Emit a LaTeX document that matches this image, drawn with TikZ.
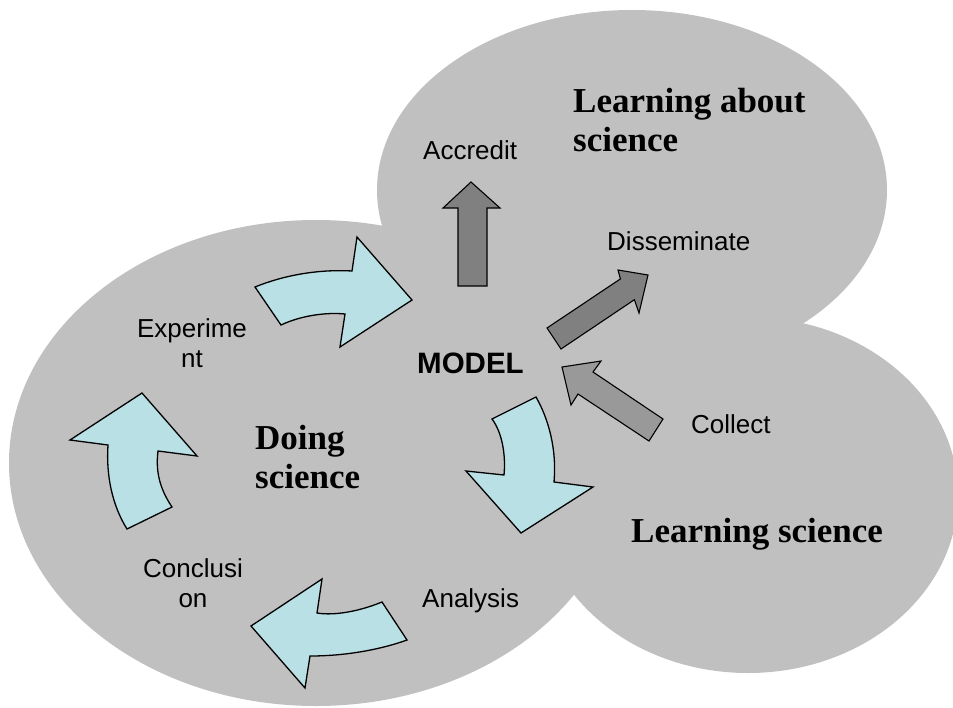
\documentclass[tikz,border=0pt]{standalone}
\usepackage{fontspec}
\setmainfont{Liberation Serif}
\newfontfamily\arialf{Liberation Sans}
\definecolor{blobgray}{HTML}{C0C0C0}
\definecolor{cyanfill}{HTML}{B9E0E4}
\definecolor{darkarr}{HTML}{808080}
\definecolor{midarr}{HTML}{999999}
\tikzset{
  blob/.style={fill=blobgray, draw=none},
  cyc/.style={fill=cyanfill, draw=black, line width=1.3pt, line join=miter},
  blockarr/.style={fill=darkarr, draw=black, line width=1.1pt, line join=miter},
  lbl/.style={font=\arialf\fontsize{26}{29.5}\selectfont, inner sep=0pt, text=black},
  modellbl/.style={font=\arialf\bfseries\fontsize{29.5}{33}\selectfont, inner sep=0pt},
  ttl/.style={font=\bfseries\fontsize{35}{39}\selectfont, inner sep=0pt, align=left}
}
\begin{document}
\begin{tikzpicture}[x=1pt, y=-1pt]
\useasboundingbox (0,0) rectangle (953,707);
% blobs
\fill[blob] (316,463) ellipse [x radius=307, y radius=243];
\fill[blob] (632,190) ellipse [x radius=255, y radius=180];
\fill[blob] (748,495) ellipse [x radius=210, y radius=178];
% curved cycle arrows
\draw[cyc] (255,287) .. controls (282,276) and (316,269) .. (352,271) -- (357,237) -- (412,300) -- (340,347) -- (345,314) .. controls (325,312) and (300,316) .. (281,325) -- cycle;
\draw[cyc] (492,419) -- (536,397) .. controls (548,418) and (557,448) .. (554,482) -- (593,487) -- (521,533) -- (466,471) -- (504,475) .. controls (506,455) and (502,432) .. (492,419) -- cycle;
\draw[cyc] (251,626) -- (322,579) -- (317,613) .. controls (335,616) and (360,611) .. (382,602) -- (407,640) .. controls (385,648) and (350,656) .. (310,656) -- (305,688) -- cycle;
\draw[cyc] (142,393) -- (197,456) -- (158,451) .. controls (155,475) and (162,492) .. (172,507) -- (127,529) .. controls (112,505) and (106,475) .. (108,445) -- (70,440) -- cycle;
% straight arrows
\draw[blockarr] (458,286) -- (458,208) -- (443,208) -- (471,182) -- (500,208) -- (487,208) -- (487,286) -- cycle;
\draw[blockarr] (547,328) -- (620.4,278.9) -- (618,270) -- (648,275) -- (639,313) -- (634.4,299.7) -- (561,349) -- cycle;
\draw[blockarr, fill=midarr] (562,367) -- (601,361) -- (593,372) -- (663,419) -- (649,441) -- (578,394) -- (571,405) -- cycle;
% labels
\node[lbl, anchor=base west] (accredit) at (423,159) {Accredit};
\node[lbl, anchor=base west] (dissem) at (607,250) {Disseminate};
\node[lbl, anchor=base west] (collect) at (691,433) {Collect};
\node[lbl, anchor=base west] (analysis) at (422,607) {Analysis};
\node[modellbl, anchor=base west] (model) at (417,373) {MODEL};
\node[lbl, align=center, anchor=base] (experiment) at (192,367) {Experime\\nt};
\node[lbl, align=center, anchor=base] (conclusion) at (193,607) {Conclusi\\on};
\node[ttl, anchor=base west] (about) at (573,151) {Learning about\\science};
\node[ttl, anchor=base west] (doing) at (255,488) {Doing\\science};
\node[ttl, anchor=base west] (learning) at (631,542) {Learning science};
\end{tikzpicture}
\end{document}
